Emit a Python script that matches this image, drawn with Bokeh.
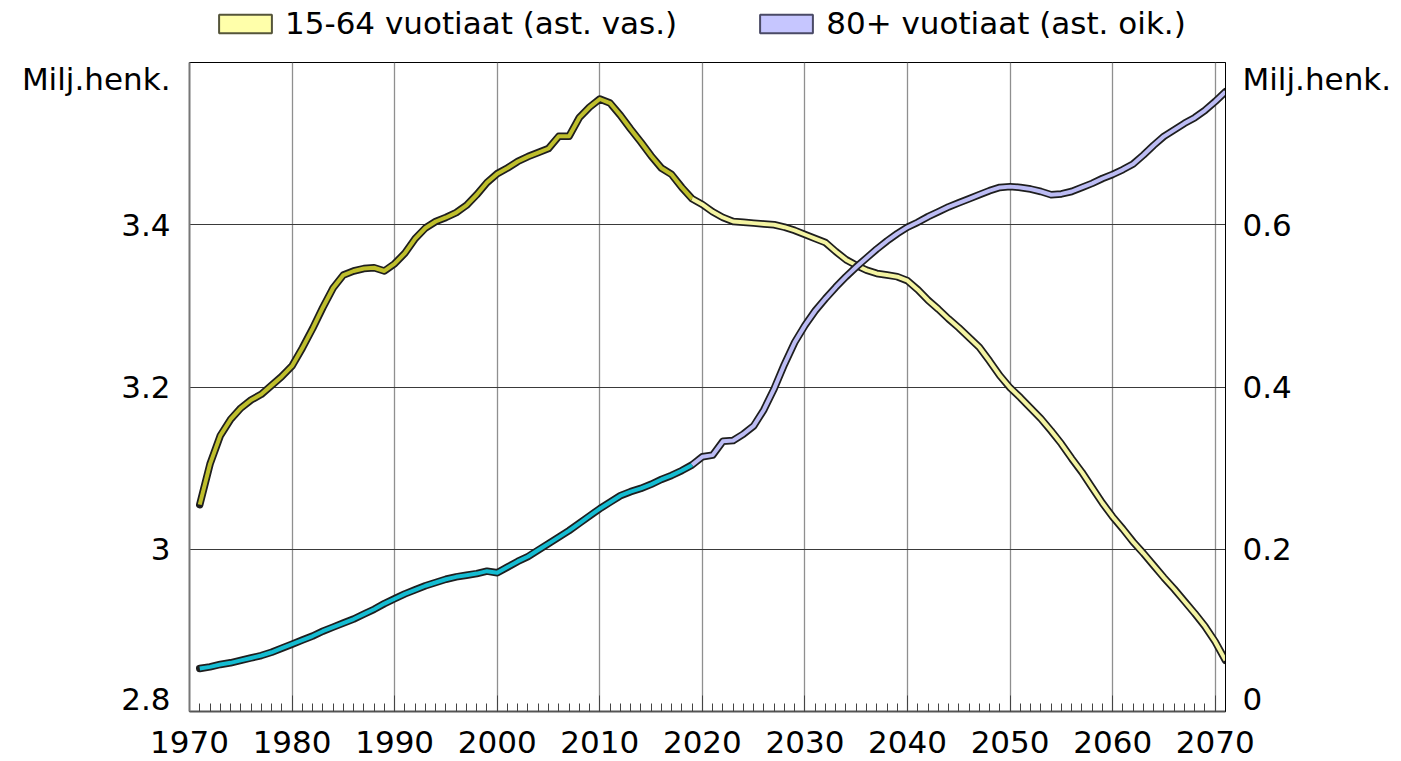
import numpy as np
from bokeh.plotting import figure
from bokeh.layouts import column
from bokeh.models import (Range1d, LinearAxis, FixedTicker, Legend, LegendItem)
from bokeh.embed import file_html
from bokeh.resources import INLINE

# ---------------- data ----------------
years = list(range(1971, 2072))

# 15-64 year olds, million persons (left axis)
working_age = [
    3.055, 3.105, 3.140, 3.160, 3.174, 3.184, 3.191, 3.202, 3.213, 3.226,
    3.248, 3.272, 3.298, 3.322, 3.338, 3.343, 3.346, 3.347, 3.343, 3.352,
    3.365, 3.383, 3.396, 3.404, 3.409, 3.415, 3.424, 3.437, 3.452, 3.463,
    3.470, 3.478, 3.484, 3.489, 3.494, 3.509, 3.509, 3.532, 3.545, 3.555,
    3.550, 3.535, 3.518, 3.502, 3.485, 3.470, 3.462, 3.446, 3.432, 3.425,
    3.416, 3.409, 3.404, 3.403, 3.402, 3.401, 3.400, 3.397, 3.393, 3.388,
    3.383, 3.378, 3.367, 3.357, 3.350, 3.344, 3.340, 3.338, 3.336, 3.331,
    3.320, 3.307, 3.296, 3.284, 3.273, 3.261, 3.249, 3.232, 3.214, 3.199,
    3.187, 3.174, 3.161, 3.146, 3.130, 3.112, 3.095, 3.076, 3.057, 3.040,
    3.025, 3.009, 2.995, 2.980, 2.965, 2.951, 2.936, 2.921, 2.905, 2.886,
    2.863,
]

# 80+ year olds, million persons (right axis)
age_80plus = [
    0.053, 0.055, 0.058, 0.060, 0.063, 0.066, 0.069, 0.073, 0.078, 0.083,
    0.088, 0.093, 0.099, 0.104, 0.109, 0.114, 0.120, 0.126, 0.133, 0.139,
    0.145, 0.150, 0.155, 0.159, 0.163, 0.166, 0.168, 0.170, 0.173, 0.171,
    0.178, 0.185, 0.191, 0.199, 0.207, 0.215, 0.223, 0.232, 0.241, 0.250,
    0.258, 0.266, 0.271, 0.275, 0.280, 0.286, 0.291, 0.297, 0.304, 0.314,
    0.316, 0.333, 0.334, 0.342, 0.352, 0.372, 0.398, 0.428, 0.455, 0.476,
    0.494, 0.509, 0.523, 0.536, 0.548, 0.559, 0.570, 0.580, 0.589, 0.597,
    0.603, 0.610, 0.616, 0.622, 0.627, 0.632, 0.637, 0.642, 0.646, 0.647,
    0.646, 0.644, 0.641, 0.637, 0.638, 0.641, 0.646, 0.651, 0.657, 0.662,
    0.668, 0.675, 0.686, 0.698, 0.709, 0.717, 0.725, 0.732, 0.741, 0.752,
    0.764,
]

last_actual_year = 2019

x_ticks = list(range(1970, 2071, 10))
left_ticks = [2.8, 3.0, 3.2, 3.4]
left_tick_labels = ["2.8", "3", "3.2", "3.4"]
right_ticks = [0.0, 0.2, 0.4, 0.6]
right_tick_labels = ["0", "0.2", "0.4", "0.6"]
legend_labels = ["15-64 vuotiaat (ast. vas.)", "80+ vuotiaat (ast. oik.)"]
unit_label = "Milj.henk."

# ---------------- style ----------------
FONT = "DejaVu Sans"
FSIZE = "31px"
C_WORK_HIST = "#bfbf2c"
C_WORK_PROJ = "#f4f4a2"
C_OLD_HIST = "#14bcd2"
C_OLD_PROJ = "#bcbcf4"
OUTLINE = "#1e1e1e"

W = 1401
LEG_H = 60
FRAME_H = 649
Y0, Y1 = 2.8, 3.6
R0, R1 = 0.0, 0.8
UNIT_SHIFT_PX = 13     # unit label sits a bit below the top edge
BOTTOM_SHIFT_PX = 13   # bottom tick labels sit a bit above the bottom edge

p = figure(width=W, height=701, output_backend="svg", toolbar_location=None,
           x_range=Range1d(1970, 2071), y_range=Range1d(Y0, Y1),
           min_border_left=189, min_border_right=176, min_border_top=2,
           min_border_bottom=50, background_fill_color="white",
           border_fill_color="white")
p.extra_y_ranges = {"right": Range1d(R0, R1)}
p.outline_line_color = "black"
p.outline_line_width = 1

# grid
p.xgrid.ticker = FixedTicker(ticks=x_ticks)
p.xgrid.grid_line_color = "#8f8f8f"
p.xgrid.grid_line_width = 1.3
p.ygrid.ticker = FixedTicker(ticks=left_ticks[1:])
p.ygrid.grid_line_color = "#3a3a3a"
p.ygrid.grid_line_width = 1

# x axis
xa = p.xaxis[0]
xa.ticker = FixedTicker(ticks=x_ticks, minor_ticks=list(range(1970, 2072)))
xa.major_tick_in = 16
xa.major_tick_out = 0
xa.minor_tick_in = 8
xa.minor_tick_out = 0
xa.major_tick_line_color = "#444444"
xa.minor_tick_line_color = "#444444"
xa.axis_line_color = "#555555"
xa.axis_line_width = 2
xa.major_label_standoff = 19
xa.major_label_text_font = FONT
xa.major_label_text_font_size = FSIZE
xa.major_label_text_color = "black"


def axis_ticks(ticks, labels, lo, hi):
    """Tick positions/labels; the bottom label is lifted and the unit label is
    added just below the top edge, as in the original chart."""
    per_px = (hi - lo) / FRAME_H
    pos = list(ticks)
    pos[0] = ticks[0] + BOTTOM_SHIFT_PX * per_px
    pos.append(hi - UNIT_SHIFT_PX * per_px)
    labs = list(labels) + [unit_label]
    return pos, dict(zip(pos, labs))


# left y axis
lpos, lmap = axis_ticks(left_ticks, left_tick_labels, Y0, Y1)
ya = p.yaxis[0]
ya.ticker = FixedTicker(ticks=lpos)
ya.major_label_overrides = lmap
ya.major_tick_line_color = None
ya.major_tick_in = 0
ya.major_tick_out = 0
ya.minor_tick_line_color = None
ya.minor_tick_out = 0
ya.axis_line_color = "#777777"
ya.axis_line_width = 2
ya.major_label_standoff = 19
ya.major_label_text_font = FONT
ya.major_label_text_font_size = FSIZE
ya.major_label_text_color = "black"

# right y axis
rpos, rmap = axis_ticks(right_ticks, right_tick_labels, R0, R1)
ra = LinearAxis(y_range_name="right", ticker=FixedTicker(ticks=rpos))
ra.major_label_overrides = rmap
ra.major_tick_line_color = None
ra.major_tick_in = 0
ra.major_tick_out = 0
ra.minor_tick_line_color = None
ra.minor_tick_out = 0
ra.axis_line_color = "black"
ra.axis_line_width = 1
ra.major_label_standoff = 17
ra.major_label_text_font = FONT
ra.major_label_text_font_size = FSIZE
ra.major_label_text_color = "black"
p.add_layout(ra, "right")

# ---------------- lines ----------------
hist = [i for i, y in enumerate(years) if y <= last_actual_year]
proj = [i for i, y in enumerate(years) if y >= last_actual_year]


def sub(arr, idx):
    return [arr[i] for i in idx]


# 15-64 (left axis)
p.line(years, working_age, line_color=OUTLINE, line_width=7.5,
       line_join="round", line_cap="round")
p.line(sub(years, hist), sub(working_age, hist), line_color=C_WORK_HIST,
       line_width=4, line_join="round")
p.line(sub(years, proj), sub(working_age, proj), line_color=C_WORK_PROJ,
       line_width=4, line_join="round")

# 80+ (right axis)
p.line(years, age_80plus, line_color=OUTLINE, line_width=7.5,
       line_join="round", line_cap="round", y_range_name="right")
p.line(sub(years, hist), sub(age_80plus, hist), line_color=C_OLD_HIST,
       line_width=4, line_join="round", y_range_name="right")
p.line(sub(years, proj), sub(age_80plus, proj), line_color=C_OLD_PROJ,
       line_width=4, line_join="round", y_range_name="right")

# ---------------- legend (own strip above the chart) ----------------
# (the strip's frame is aligned with the chart frame by the column layout)
lg = figure(width=W, height=LEG_H, output_backend="svg", toolbar_location=None,
            x_axis_type=None, y_axis_type=None, x_range=Range1d(0, 1),
            y_range=Range1d(0, 1), min_border=0, border_fill_color="white",
            background_fill_color="white")
lg.outline_line_color = None
lg.grid.visible = False
sw1 = lg.rect(x=[np.nan], y=[np.nan], width=1, height=1, fill_color="#ffffaa",
              line_color="#55553a", line_width=2)
sw2 = lg.rect(x=[np.nan], y=[np.nan], width=1, height=1, fill_color="#c6c6ff",
              line_color="#4a4a66", line_width=2)
legend = Legend(items=[LegendItem(label=legend_labels[0], renderers=[sw1], index=0),
                       LegendItem(label=legend_labels[1], renderers=[sw2], index=0)],
                orientation="horizontal", location=(23, 19),
                glyph_width=66, glyph_height=23, label_standoff=7, spacing=76,
                padding=0, margin=0, border_line_color=None,
                background_fill_alpha=0, label_text_font=FONT,
                label_text_font_size=FSIZE, label_text_color="black")
lg.add_layout(legend, "center")

open("out.html", "w").write(file_html(column(lg, p), INLINE))
